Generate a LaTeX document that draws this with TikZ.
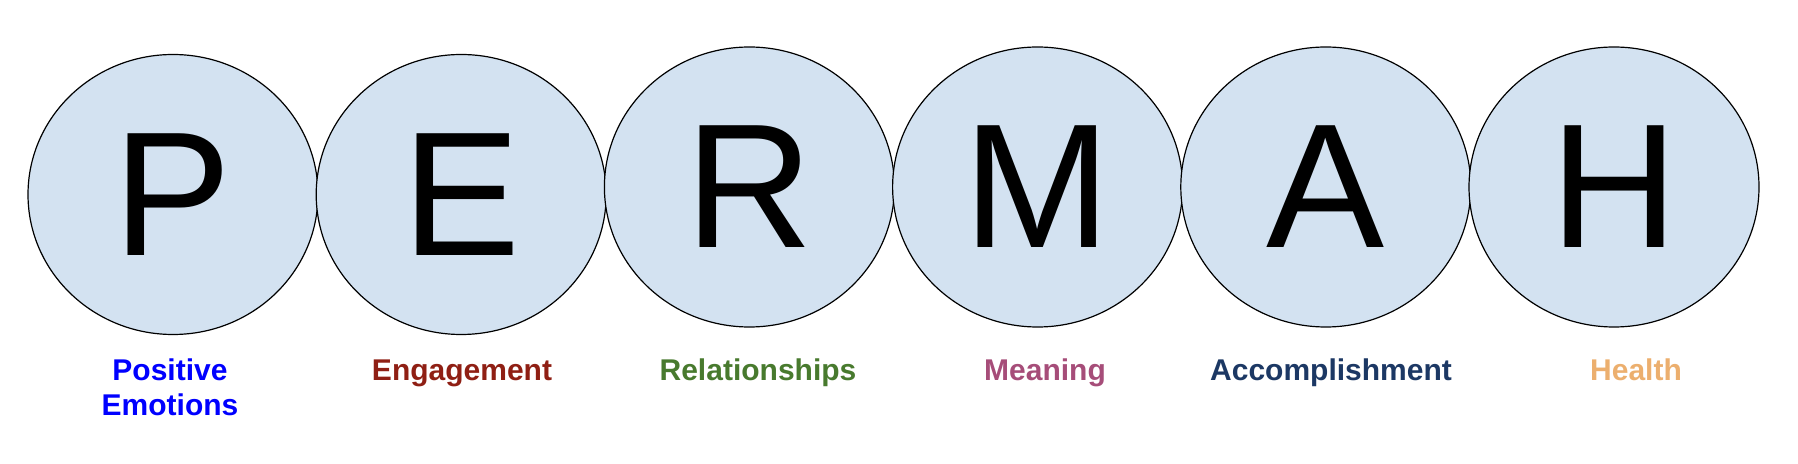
\documentclass[tikz,border=0pt]{standalone}
\usepackage{fontspec}
\setmainfont{Liberation Sans}
\usetikzlibrary{positioning, shapes.geometric}

\definecolor{discblue}{RGB}{211,226,241}
\definecolor{posblue}{RGB}{0,0,255}
\definecolor{engred}{RGB}{143,31,20}
\definecolor{relgreen}{RGB}{72,122,46}
\definecolor{meanpink}{RGB}{166,77,121}
\definecolor{accnavy}{RGB}{28,56,100}
\definecolor{healthorange}{RGB}{236,175,110}

\begin{document}
\begin{tikzpicture}[
    x=0.5pt, y=-0.5pt,
    % Styles for the letter discs and their captions
    disc/.style={ellipse, draw=black, line width=0.6pt, fill=discblue, minimum width=145pt, minimum height=140pt, inner sep=0pt, font=\fontsize{88.5}{90}\selectfont},
    caption/.style={anchor=base, align=center, font=\fontsize{15}{17.85}\selectfont\bfseries}
]
    \useasboundingbox (0,0) rectangle (1798,464);

    % Letter discs, side by side
    \node (P) [disc] at (173,194.5) {P};
    \node (E) [disc, right=-1.5pt of P] {E};
    \node (R) [disc, right=-1.5pt of E, yshift=3.75pt] {R};
    \node (M) [disc, right=-1.5pt of R] {M};
    \node (A) [disc, right=-1.5pt of M] {A};
    \node (H) [disc, right=-1.5pt of A] {H};

    % Captions under the discs (base = last line)
    \node (capP) [caption, text=posblue] at (170,415.7) {Positive\\Emotions};
    \node (capE) [caption, text=engred] at (462,380) {Engagement};
    \node (capR) [caption, text=relgreen] at (758,381) {Relationships};
    \node (capM) [caption, text=meanpink] at (1045,380) {Meaning};
    \node (capA) [caption, text=accnavy] at (1331,381) {Accomplishment};
    \node (capH) [caption, text=healthorange] at (1636,380) {Health};

\end{tikzpicture}
\end{document}
